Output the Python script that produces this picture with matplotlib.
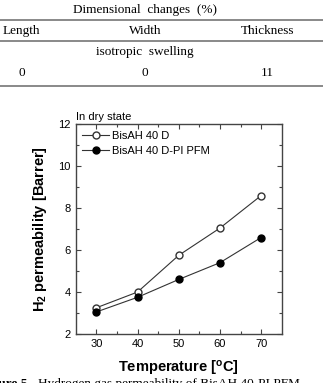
import matplotlib
matplotlib.use('Agg')
import matplotlib.pyplot as plt
from matplotlib.lines import Line2D

# table data
table_title = 'Dimensional  changes  (%)'
col_names = ['Length', 'Width', 'Thickness']
row_note = 'isotropic  swelling'
col_values = ['0', '0', '11']

# chart data
temps = [30, 40, 50, 60, 70]
perm_d = [3.25, 4.0, 5.75, 7.05, 8.6]
perm_pfm = [3.05, 3.75, 4.6, 5.4, 6.6]
labels = ['BisAH 40 D', 'BisAH 40 D-PI PFM']

W, H = 323, 383
plt.rcParams['font.family'] = ['Liberation Sans', 'DejaVu Sans']
plt.rcParams['mathtext.fontset'] = 'custom'
plt.rcParams['mathtext.rm'] = 'Liberation Sans'
plt.rcParams['mathtext.bf'] = 'Liberation Sans:bold'
fig = plt.figure(figsize=(W / 100, H / 100), dpi=100)

def fy(py):
    return 1 - py / H

serif = 'Liberation Serif'
fs_tab = 9.5
fig.text(145 / W, fy(10), table_title, ha='center', va='center', family=serif, fontsize=fs_tab)
for x, name in zip([21, 145, 268], col_names):
    fig.text(x / W, fy(31), name, ha='center', va='center', family=serif, fontsize=fs_tab)
fig.text(145 / W, fy(52), row_note, ha='center', va='center', family=serif, fontsize=fs_tab)
for x, v in zip([22, 145, 267], col_values):
    fig.text(x / W, fy(73), v, ha='center', va='center', family=serif, fontsize=fs_tab)
for py in [19.5, 41, 86]:
    fig.add_artist(Line2D([0, 1], [fy(py), fy(py)], color='#808080', lw=1.3,
                          transform=fig.transFigure))

ax = fig.add_axes([75.7 / W, fy(334), 206 / W, (334 - 124.3) / H])
ax.plot(temps, perm_d, '-o', color='#333333', mfc='white', mec='#333333',
        ms=5, lw=0.8, label=labels[0])
ax.plot(temps, perm_pfm, '-o', color='#333333', mfc='black', mec='black',
        ms=5, lw=0.8, label=labels[1])
ax.set_xlim(25, 75)
ax.set_ylim(2, 12)
ax.set_xticks([30, 40, 50, 60, 70])
ax.set_xticks([35, 45, 55, 65], minor=True)
ax.set_yticks([2, 4, 6, 8, 10, 12])
ax.set_yticks([3, 5, 7, 9, 11], minor=True)
ax.tick_params(which='both', direction='in', top=True, right=True, labelsize=8, color='#444444')
ax.tick_params(which='major', length=3.5, width=0.8)
ax.tick_params(which='minor', length=2, width=0.8)
for s in ax.spines.values():
    s.set_linewidth(1.0)
    s.set_color('#444444')

ax.set_xlabel(r'Temperature [$\mathbf{^o}$C]', fontsize=10.5, fontweight='bold')
ax.set_ylabel(r'H$_\mathbf{2}$ permeability [Barrer]', fontsize=10.5, fontweight='bold')
ax.yaxis.set_label_coords(-0.13, 0.5)
ax.xaxis.set_label_coords(0.5, -0.12)
ax.text(0.0, 1.01, 'In dry state', transform=ax.transAxes, ha='left', va='bottom', fontsize=8)
ax.legend(loc='upper left', frameon=False, fontsize=8, handlelength=2.4,
          borderaxespad=0.2, handletextpad=0.3, labelspacing=0.45)

fig.text(31 / W, fy(378), 'Figure 5.', ha='right', va='top', family=serif,
         fontsize=9.5, fontweight='bold')
fig.text(38 / W, fy(378), 'Hydrogen gas permeability of BisAH 40-PI PFM', ha='left', va='top',
         family=serif, fontsize=9.5)

fig.savefig('out.png', dpi=100)
